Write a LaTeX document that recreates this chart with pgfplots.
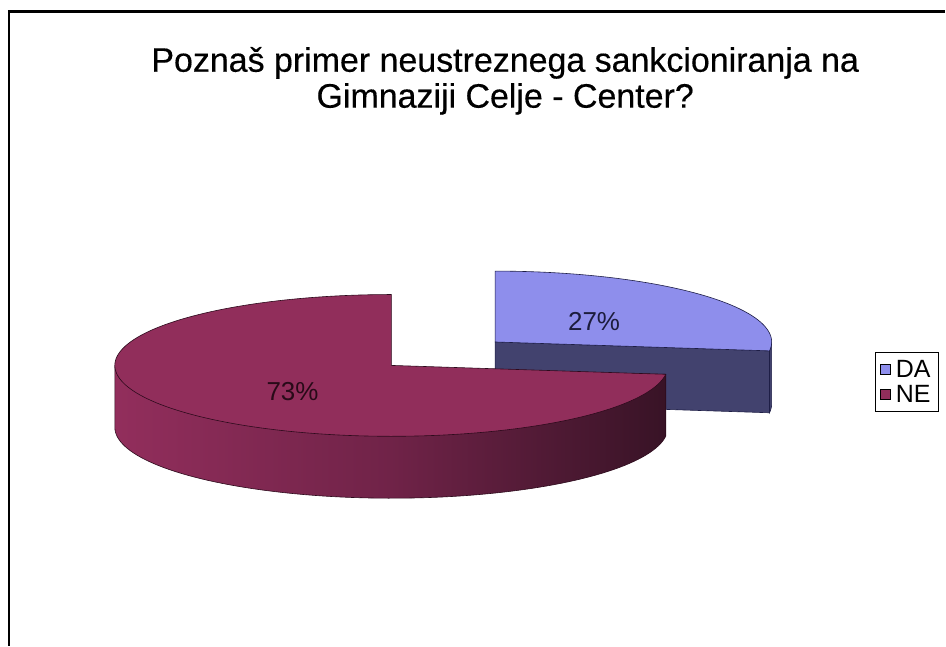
\documentclass[border=0pt]{standalone}
\usepackage{fontspec}
\setmainfont{Liberation Sans}
\usepackage{pgfplots}
\pgfplotsset{compat=1.18}

\definecolor{daTop}{RGB}{142,142,236}
\definecolor{daSide}{RGB}{66,66,110}
\definecolor{daLine}{RGB}{30,30,70}
\definecolor{daText}{RGB}{28,28,60}
\definecolor{neTop}{RGB}{145,46,91}
\definecolor{neLeft}{RGB}{146,46,92}
\definecolor{neMid}{RGB}{112,35,72}
\definecolor{neRight}{RGB}{56,19,38}
\definecolor{neLine}{RGB}{45,10,28}
\definecolor{neText}{RGB}{40,10,24}

\begin{document}
\begin{tikzpicture}
% answers, percent
\def\valDA{27}
\def\valNE{73}
% pie geometry in pixels of the picture (y upward)
\pgfmathsetmacro\pieRx{277}
\pgfmathsetmacro\pieRy{71}
\pgfmathsetmacro\dep{62}
\pgfmathsetmacro\cx{392}
\pgfmathsetmacro\cy{281}
% DA starts at 12 o'clock, clockwise; NE takes the rest
\pgfmathsetmacro\aE{90-3.6*\valDA}
\pgfmathsetmacro\aEp{\aE+360}
\pgfmathsetmacro\aM{(90+\aE)/2}
% DA is pulled out by half a radius
\pgfmathsetmacro\daX{\cx+0.5*\pieRx*cos(\aM)}
\pgfmathsetmacro\daY{\cy+0.5*\pieRy*sin(\aM)}
\pgfmathsetmacro\daYb{\daY-\dep}
\pgfmathsetmacro\rimDx{\daX+\pieRx*cos(\aE)}
\pgfmathsetmacro\rimDy{\daY+\pieRy*sin(\aE)}
\pgfmathsetmacro\rimDyb{\rimDy-\dep}
\pgfmathsetmacro\daRight{\daX+\pieRx}
\pgfmathsetmacro\rimNx{\cx+\pieRx*cos(\aE)}
\pgfmathsetmacro\rimNy{\cy+\pieRy*sin(\aE)}
\pgfmathsetmacro\neLeftX{\cx-\pieRx}

\begin{axis}[
  width=946pt, height=647pt, scale only axis,
  xmin=0, xmax=946, ymin=0, ymax=647,
  hide axis, clip=false,
  legend style={at={(axis cs:876,294)}, anchor=north west,
    draw=black, line width=0.8pt, fill=white,
    font=\fontsize{25}{27}\selectfont,
    inner xsep=5pt, inner ysep=4.5pt, row sep=0.5pt,
    nodes={inner sep=3pt},
    /tikz/every odd column/.append style={column sep=2pt}},
  legend cell align=left,
]
\fill[white] (axis cs:0,0) rectangle (axis cs:946,647);
\draw[line width=3pt] (axis cs:8,635) -- (axis cs:946,635);
\draw[line width=2pt] (axis cs:9,636) -- (axis cs:9,0);

% DA: outer rim sliver, cut face, top
\addplot[forget plot, fill=daSide, draw=daLine, line width=0.6pt,
  domain=\aE:0, samples=10, variable=\t]
  ({\daX+\pieRx*cos(\t)}, {\daYb+\pieRy*sin(\t)})
  -- (\daRight,\daY) -- (\rimDx,\rimDy) -- cycle;
\addplot[forget plot, fill=daSide, draw=daLine, line width=0.6pt]
  coordinates {(\daX,\daY) (\rimDx,\rimDy) (\rimDx,\rimDyb) (\daX,\daYb)} -- cycle;
\addplot[forget plot, fill=daTop, draw=daLine, line width=0.6pt,
  domain=\aE:90, samples=90, variable=\t]
  ({\daX+\pieRx*cos(\t)}, {\daY+\pieRy*sin(\t)}) -- (\daX,\daY) -- cycle;

% NE: side band, then top
\addplot[forget plot, draw=neLine, line width=0.6pt,
  left color=neLeft, right color=neRight, middle color=neMid,
  domain=180:\aEp, samples=90, variable=\t]
  ({\cx+\pieRx*cos(\t)}, {\cy-\dep+\pieRy*sin(\t)})
  -- (\rimNx,\rimNy) -- (\neLeftX,\cy) -- cycle;
\addplot[forget plot, fill=neTop, draw=neLine, line width=0.6pt,
  domain=90:\aEp, samples=150, variable=\t]
  ({\cx+\pieRx*cos(\t)}, {\cy+\pieRy*sin(\t)}) -- (\cx,\cy) -- cycle;

\node[font=\fontsize{26}{26}\selectfont, text=daText] at (axis cs:595,325) {\valDA\%};
\node[font=\fontsize{26}{26}\selectfont, text=neText] at (axis cs:293,255) {\valNE\%};

\node[align=center, font=\fontsize{34}{36}\selectfont\addfontfeature{FakeBold=0.4}]
  at (axis cs:506,566)
  {Poznaš primer neustreznega sankcioniranja na\\Gimnaziji Celje - Center?};

\addlegendimage{legend image code/.code={\draw[fill=daTop, draw=black, line width=0.8pt] (0pt,-5pt) rectangle (10pt,5pt);}}
\addlegendentry{DA}
\addlegendimage{legend image code/.code={\draw[fill=neTop, draw=black, line width=0.8pt] (0pt,-5pt) rectangle (10pt,5pt);}}
\addlegendentry{NE}
\end{axis}
\end{tikzpicture}
\end{document}
